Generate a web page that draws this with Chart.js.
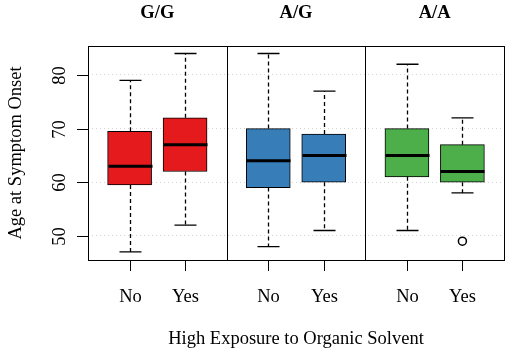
<html>
<head>
<title>Age at symptom onset</title>
<style>
  body { margin: 0; background: #fff; }
  #wrap { width: 510px; height: 353px; }
</style>
</head>
<body>
<div id="wrap"><canvas id="chart" width="510" height="353"></canvas></div>
<script src="https://cdn.jsdelivr.net/npm/chart.js@4/dist/chart.umd.min.js"></script>
<script>
const panels = ['G/G', 'A/G', 'A/A'];
const groups = ['No', 'Yes'];
const yTicks = [50, 60, 70, 80];

// box stats, order: G/G No, G/G Yes, A/G No, A/G Yes, A/A No, A/A Yes
const lowerWhisker = [47, 52, 48, 51, 51, 58];
const q1 = [59.5, 62, 59, 60, 61, 60];
const median = [63, 67, 64, 65, 65, 62];
const q3 = [69.5, 72, 70, 69, 70, 67];
const upperWhisker = [79, 84, 84, 77, 82, 72];
const outliers = [[], [], [], [], [], [49]];

const panelColors = ['#E41A1C', '#377EB8', '#4DAF4A'];
const FONT = '"Liberation Serif", "DejaVu Serif", serif';
const FS = 18.5;

// x position of each box: panel index + offset inside panel
const xOf = i => Math.floor(i / 2) + (i % 2 === 0 ? 0.3 : 0.7);

const boxData = q1.map((v, i) => ({ x: xOf(i), y: [v, q3[i]] }));
const outlierData = [];
outliers.forEach((arr, i) => arr.forEach(v => outlierData.push({ x: xOf(i), y: v })));

const boxPlugin = {
  id: 'boxExtras',
  afterDatasetsDraw(chart) {
    const ctx = chart.ctx;
    const xs = chart.scales.x, ys = chart.scales.y;
    const area = chart.chartArea;
    ctx.save();
    ctx.strokeStyle = '#000';
    q1.forEach((v, i) => {
      const cx = Math.round(xs.getPixelForValue(xOf(i))) + 0.5;
      // whiskers
      ctx.lineWidth = 1.3;
      ctx.setLineDash([4, 3]);
      ctx.beginPath();
      ctx.moveTo(cx, ys.getPixelForValue(q3[i]));
      ctx.lineTo(cx, ys.getPixelForValue(upperWhisker[i]));
      ctx.moveTo(cx, ys.getPixelForValue(v));
      ctx.lineTo(cx, ys.getPixelForValue(lowerWhisker[i]));
      ctx.stroke();
      ctx.setLineDash([]);
      ctx.beginPath();
      [upperWhisker[i], lowerWhisker[i]].forEach(w => {
        const py = ys.getPixelForValue(w);
        ctx.moveTo(cx - 11, py);
        ctx.lineTo(cx + 11, py);
      });
      ctx.stroke();
      // median
      ctx.lineWidth = 3;
      ctx.beginPath();
      const my = ys.getPixelForValue(median[i]);
      ctx.moveTo(cx - 22, my);
      ctx.lineTo(cx + 22, my);
      ctx.stroke();
    });
    // panel dividers and frame
    ctx.lineWidth = 1;
    ctx.beginPath();
    [1, 2].forEach(p => {
      const px = Math.round(xs.getPixelForValue(p)) + 0.5;
      ctx.moveTo(px, area.top);
      ctx.lineTo(px, area.bottom);
    });
    ctx.stroke();
    ctx.strokeRect(Math.round(area.left) + 0.5, Math.round(area.top) + 0.5,
      Math.round(area.right - area.left), Math.round(area.bottom - area.top));
    ctx.restore();
  },
  afterDraw(chart) {
    const ctx = chart.ctx;
    const xs = chart.scales.x, ys = chart.scales.y;
    const area = chart.chartArea;
    ctx.save();
    ctx.fillStyle = '#000';
    ctx.strokeStyle = '#000';
    ctx.lineWidth = 1;
    // y ticks and labels
    ctx.font = FS + 'px ' + FONT;
    ctx.textAlign = 'center';
    ctx.textBaseline = 'middle';
    yTicks.forEach(t => {
      const py = Math.round(ys.getPixelForValue(t)) + 0.5;
      ctx.beginPath();
      ctx.moveTo(area.left - 11, py);
      ctx.lineTo(area.left, py);
      ctx.stroke();
      ctx.save();
      ctx.translate(area.left - 28, py);
      ctx.rotate(-Math.PI / 2);
      ctx.fillText(String(t), 0, 0);
      ctx.restore();
    });
    // x ticks and labels
    q1.forEach((v, i) => {
      const px = Math.round(xs.getPixelForValue(xOf(i))) + 0.5;
      ctx.beginPath();
      ctx.moveTo(px, area.bottom);
      ctx.lineTo(px, area.bottom + 11);
      ctx.stroke();
      ctx.fillText(groups[i % 2], px, area.bottom + 37);
    });
    // panel titles
    ctx.font = 'bold ' + FS + 'px ' + FONT;
    panels.forEach((p, k) => {
      ctx.fillText(p, xs.getPixelForValue(k + 0.5), 13);
    });
    // axis titles
    ctx.font = FS + 'px ' + FONT;
    ctx.fillText('High Exposure to Organic Solvent', (area.left + area.right) / 2, 339);
    ctx.save();
    ctx.translate(16, (area.top + area.bottom) / 2);
    ctx.rotate(-Math.PI / 2);
    ctx.fillText('Age at Symptom Onset', 0, 0);
    ctx.restore();
    ctx.restore();
  }
};

new Chart(document.getElementById('chart'), {
  type: 'bar',
  data: {
    datasets: [
      {
        type: 'bar',
        data: boxData,
        backgroundColor: q1.map((v, i) => panelColors[Math.floor(i / 2)]),
        borderColor: '#000',
        borderWidth: 1,
        borderSkipped: false,
        barThickness: 44
      },
      {
        type: 'scatter',
        data: outlierData,
        pointStyle: 'circle',
        pointRadius: 4,
        backgroundColor: '#fff',
        borderColor: '#000',
        borderWidth: 1.5
      }
    ]
  },
  options: {
    responsive: false,
    animation: false,
    layout: { padding: { left: 88, right: 6, top: 46, bottom: 93 } },
    plugins: { legend: { display: false }, tooltip: { enabled: false } },
    scales: {
      x: {
        type: 'linear',
        min: 0,
        max: 3,
        offset: false,
        display: false,
        grid: { offset: false }
      },
      y: {
        min: 45.5,
        max: 85.4,
        afterBuildTicks: s => { s.ticks = yTicks.map(v => ({ value: v })); },
        ticks: { display: false },
        grid: { color: '#d4d4d4', drawTicks: false, lineWidth: 1 },
        border: { display: false, dash: [1, 3] }
      }
    }
  },
  plugins: [boxPlugin]
});
</script>
</body>
</html>
